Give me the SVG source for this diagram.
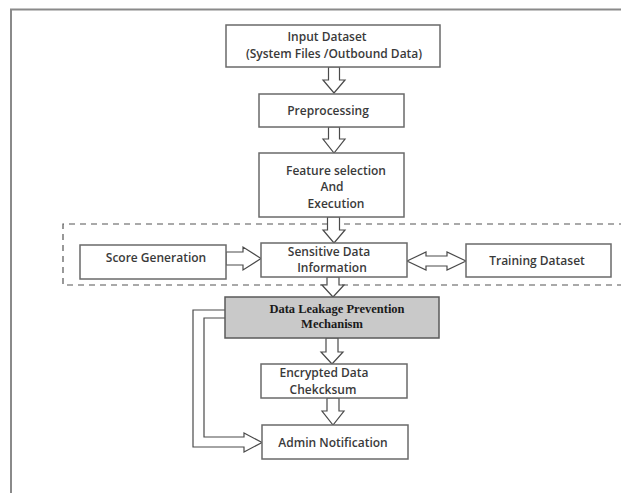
<svg xmlns="http://www.w3.org/2000/svg" width="621" height="493" viewBox="0 0 621 493">
  <style>
    .box { fill: #ffffff; stroke: #6a6a6a; stroke-width: 1.5; }
    .box-dlp { fill: #c9c9c9; stroke: #5a5a5a; stroke-width: 1.5; }
    .lbl { font-family: "Open Sans", "Liberation Sans", sans-serif; font-size: 12px; font-weight: 600; fill: #3a3a3a; text-anchor: middle; }
    .lbl-serif { font-family: "Liberation Serif", "Times New Roman", serif; font-size: 12.5px; font-weight: bold; fill: #1a1a1a; text-anchor: middle; }
    .arrow { fill: #ffffff; stroke: #4a4a4a; stroke-width: 1.2; stroke-linejoin: miter; }
    .frame { fill: none; stroke: #8a8a8a; stroke-width: 2; }
    .group-outline { fill: none; stroke: #555555; stroke-width: 1.2; stroke-dasharray: 6 5; }
  </style>

  <rect width="621" height="493" fill="#ffffff"/>

  <!-- page frame -->
  <path class="frame" d="M11,493 V9.5 H621"/>

  <!-- dashed grouping around the sensitive-data row -->
  <path class="group-outline" d="M625,224 H63 V285 H625"/>

  <!-- connectors -->
  <g id="connectors">
    <polygon class="arrow" points="328.5,67 339.5,67 339.5,80 345,80 334,93 323,80 328.5,80"/>
    <polygon class="arrow" points="328.5,127 339.5,127 339.5,139 345,139 334,153 323,139 328.5,139"/>
    <polygon class="arrow" points="327.5,217 339.5,217 339.5,230 345,230 334,243 323,230 327.5,230"/>
    <polygon class="arrow" points="327,277 339,277 339,285 344,285 333,297 322,285 327,285"/>
    <polygon class="arrow" points="326,338 338,338 338,352 343,352 332,364 321,352 326,352"/>
    <polygon class="arrow" points="327,398 339,398 339,411 344,411 333,425 322,411 327,411"/>
    <!-- score generation into sensitive data -->
    <polygon class="arrow" points="226,252 243,252 243,247 261,258.5 243,270 243,265 226,265"/>
    <!-- sensitive data <-> training dataset -->
    <polygon class="arrow" points="407,261 426,252 426,256 447,256 447,252 466,261 447,270 447,266 426,266 426,270"/>
    <!-- prevention mechanism feedback to admin notification -->
    <polyline class="arrow" points="225,310 193,310 193,447 244,447 244,452 262,442.5 244,433 244,437 204,437 204,318 225,318"/>
  </g>

  <g id="input-dataset">
    <rect class="box" x="226" y="25" width="214" height="42"/>
    <text class="lbl" x="327" y="41">Input Dataset</text>
    <text class="lbl" x="334" y="58">(System Files /Outbound Data)</text>
  </g>

  <g id="preprocessing">
    <rect class="box" x="259" y="94" width="145" height="33"/>
    <text class="lbl" x="328" y="115">Preprocessing</text>
  </g>

  <g id="feature-selection">
    <rect class="box" x="259" y="153" width="145" height="64"/>
    <text class="lbl" x="336" y="174.5">Feature selection</text>
    <text class="lbl" x="332" y="191">And</text>
    <text class="lbl" x="336" y="207.5">Execution</text>
  </g>

  <g id="score-generation">
    <rect class="box" x="80" y="245" width="146" height="34"/>
    <text class="lbl" x="156" y="262">Score Generation</text>
  </g>

  <g id="sensitive-data">
    <rect class="box" x="261" y="243" width="146" height="34"/>
    <text class="lbl" x="329" y="255.5">Sensitive Data</text>
    <text class="lbl" x="332" y="272">Information</text>
  </g>

  <g id="training-dataset">
    <rect class="box" x="466" y="244" width="145" height="33"/>
    <text class="lbl" x="537" y="265">Training Dataset</text>
  </g>

  <g id="leakage-prevention">
    <rect class="box-dlp" x="225" y="297" width="214" height="41"/>
    <text class="lbl-serif" x="337" y="312.5">Data Leakage Prevention</text>
    <text class="lbl-serif" x="332" y="328">Mechanism</text>
  </g>

  <g id="encrypted-checksum">
    <rect class="box" x="261" y="364" width="146" height="34"/>
    <text class="lbl" x="324" y="377">Encrypted Data</text>
    <text class="lbl" x="323" y="393.5">Chekcksum</text>
  </g>

  <g id="admin-notification">
    <rect class="box" x="262" y="425" width="146" height="34"/>
    <text class="lbl" x="333" y="447">Admin Notification</text>
  </g>
</svg>
